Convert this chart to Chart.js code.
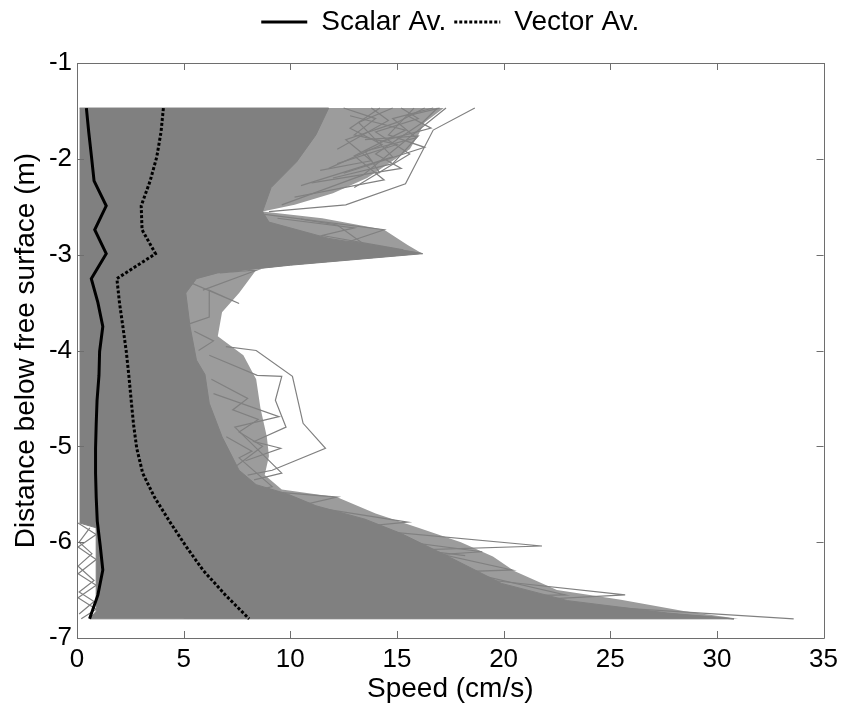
<!DOCTYPE html>
<html>
<head>
<meta charset="utf-8">
<script src="https://cdn.jsdelivr.net/npm/chart.js@4.4.0/dist/chart.umd.min.js"></script>
<style>
  body { margin: 0; background: #fff; }
  canvas { display: block; }
</style>
</head>
<body>
<canvas id="speedChart" width="844" height="706"></canvas>
<script>
// depth bins (m), shared by both averages
const depth = [-1.47, -1.72, -1.98, -2.23, -2.49, -2.74, -2.99, -3.25, -3.50, -3.75, -4.01, -4.26, -4.52, -4.77, -5.02, -5.28, -5.53, -5.78, -6.04, -6.29, -6.55, -6.80]
const scalarAvg = [0.44, 0.55, 0.68, 0.80, 1.37, 0.83, 1.37, 0.67, 0.98, 1.21, 1.06, 1.03, 0.94, 0.90, 0.87, 0.87, 0.90, 0.95, 1.09, 1.21, 0.98, 0.59]
const vectorAvg = [4.05, 3.94, 3.74, 3.43, 3.01, 3.05, 3.68, 1.87, 1.99, 2.15, 2.31, 2.43, 2.54, 2.65, 2.80, 3.08, 3.63, 4.33, 5.10, 5.90, 6.95, 8.07]

// outline of the solid grey mass made by all the single profiles
const massSpeed = [0.12, 11.8, 11.2, 10.3, 9.1, 8.7, 9.0, 11.8, 14.6, 16.2, 10.0, 6.6, 5.6, 5.1, 5.3, 5.6, 6.0, 6.2, 6.8, 7.6, 8.4, 9.9, 11.2, 13.5, 15.2, 17.5, 19.9, 23.0, 27.7, 30.8, 0.6, 0.9, 0.9, 0.12]
const massDepth = [-1.47, -1.47, -1.75, -2.03, -2.30, -2.55, -2.66, -2.83, -2.93, -2.99, -3.11, -3.19, -3.25, -3.40, -3.75, -4.10, -4.25, -4.55, -4.90, -5.25, -5.40, -5.50, -5.62, -5.76, -5.91, -6.16, -6.43, -6.61, -6.74, -6.80, -6.80, -6.72, -5.85, -5.80]

// outer edge of the band where the profiles are dense but not solid
const hairSpeed = [5.0, 17.2, 16.3, 16.0, 15.6, 14.6, 13.6, 12.0, 10.2, 8.7, 11.5, 14.4, 15.5, 16.2, 10.0, 6.7, 8.4, 7.6, 6.8, 6.6, 7.8, 8.4, 8.6, 8.9, 9.0, 8.8, 9.6, 12.2, 14.0, 16.0, 18.0, 19.5, 20.5, 22.5, 25.5, 28.5, 31.0, 5.0]
const hairDepth = [-1.47, -1.47, -1.62, -1.75, -1.90, -2.05, -2.20, -2.36, -2.48, -2.55, -2.62, -2.74, -2.90, -2.99, -3.11, -3.19, -3.16, -3.40, -3.60, -3.85, -4.05, -4.30, -4.60, -4.90, -5.10, -5.30, -5.45, -5.53, -5.70, -5.85, -6.00, -6.15, -6.30, -6.50, -6.60, -6.72, -6.80, -6.80]

// single profiles sticking out of the mass, [speed, depth]
const topProfiles = [
    [[18.65, -1.47], [16.7, -1.70], [15.4, -2.26], [12.6, -2.48], [9.0, -2.55]],
    [[17.3, -1.47], [15.9, -1.72], [13.4, -2.17], [9.6, -2.48]],
    [[16.9, -1.47], [16.2, -1.62], [14.0, -1.95], [15.2, -2.10], [11.0, -2.25]],
    [[15.8, -1.47], [14.6, -1.75], [16.3, -1.88], [12.5, -2.15]],
    [[14.8, -1.47], [13.2, -1.62], [14.8, -1.98], [10.5, -2.28]],
    [[16.3, -1.47], [15.0, -1.62], [12.6, -1.80], [13.8, -2.02], [11.4, -2.12]],
    [[13.8, -1.47], [14.6, -1.60], [12.2, -1.90]],
    [[17.0, -1.47], [15.5, -1.55], [16.6, -1.68], [14.2, -1.82]],
    [[12.8, -1.55], [15.4, -1.70], [13.0, -1.97], [14.4, -2.22], [10.2, -2.40]],
    [[12.5, -1.47], [14.0, -1.58], [13.0, -1.75], [15.0, -1.85], [12.2, -2.05]],
    [[15.2, -1.47], [16.0, -1.58], [14.0, -1.72], [15.6, -1.95], [13.0, -2.30]],
    [[14.2, -1.47], [12.8, -1.68], [14.3, -1.85], [11.8, -2.10]],
    [[16.7, -1.47], [14.8, -1.58], [15.9, -1.78], [13.5, -1.92], [14.2, -2.15]],
    [[13.5, -1.80], [16.0, -1.76], [14.8, -2.05], [12.0, -2.20]]
]
const midProfiles = [
    [[8.8, -2.58], [14.4, -2.74], [12.8, -2.86], [16.2, -2.99]],
    [[9.4, -2.62], [13.0, -2.72], [11.5, -2.80], [15.3, -2.95]],
    [[10.5, -2.63], [12.2, -2.69], [13.7, -2.93]],
    [[6.7, -3.19], [8.45, -3.16], [5.9, -3.37]],
    [[5.4, -3.30], [7.6, -3.51], [6.2, -3.37], [6.2, -3.65], [5.3, -3.72]],
    [[5.5, -3.80], [6.4, -3.90], [5.7, -4.00]],
    [[6.98, -3.96], [8.4, -4.00], [10.1, -4.27], [10.6, -4.76], [11.65, -5.02], [9.15, -5.25], [8.0, -5.30]],
    [[6.2, -4.05], [8.45, -4.26], [9.6, -4.27], [9.3, -4.52], [9.8, -4.80], [8.3, -4.95], [9.55, -5.02], [7.9, -5.15]],
    [[6.3, -4.30], [8.0, -4.50], [7.3, -4.62], [8.5, -4.72], [7.6, -4.85], [8.7, -5.00], [7.5, -5.20]],
    [[6.4, -4.45], [9.47, -4.69], [7.4, -4.80], [9.6, -5.28], [8.3, -5.35]],
    [[7.0, -4.90], [8.2, -5.05], [7.6, -5.12], [9.15, -5.42], [8.6, -5.45]]
]
const lowProfiles = [
    [[9.5, -5.48], [12.2, -5.53], [10.8, -5.60]],
    [[11.5, -5.65], [15.5, -5.79], [13.2, -5.84]],
    [[14.0, -5.88], [21.8, -6.04], [16.0, -6.08], [18.2, -6.14]],
    [[13.8, -5.95], [19.0, -6.10], [15.5, -6.15]],
    [[15.5, -6.05], [20.4, -6.29], [17.8, -6.31]],
    [[18.0, -6.30], [22.9, -6.55], [20.5, -6.56]],
    [[19.5, -6.40], [25.7, -6.55], [21.5, -6.60]],
    [[23.5, -6.66], [33.6, -6.80]],
    [[25.0, -6.70], [30.8, -6.80]]
]
const edgeProfiles = [
    [[0.05, -5.80], [0.9, -5.92], [0.05, -6.05], [0.9, -6.18], [0.05, -6.33], [0.9, -6.45], [0.05, -6.58], [0.9, -6.70], [0.2, -6.80]],
    [[0.6, -5.85], [0.1, -6.00], [0.7, -6.12], [0.05, -6.25], [0.8, -6.40], [0.1, -6.52], [0.8, -6.62], [0.1, -6.75]]
]

const grey = '#808080'
const tickFont = { family: '"Liberation Sans", Arial, sans-serif', size: 26 }
const textFont = { family: '"Liberation Sans", Arial, sans-serif', size: 28 }

Chart.defaults.font.family = tickFont.family
Chart.defaults.color = '#000'

var profileDataset = function (points) {
    return {
        data: points.map(p => ({ x: p[0], y: p[1] })),
        borderColor: grey,
        borderWidth: 1.2,
        fill: false,
        order: 2
    }
}

var datasets = [
    {
        label: 'Scalar Av.',
        data: depth.map((d, i) => ({ x: scalarAvg[i], y: d })),
        borderColor: '#000',
        borderWidth: 3,
        order: 0
    },
    {
        label: 'Vector Av.',
        data: depth.map((d, i) => ({ x: vectorAvg[i], y: d })),
        borderColor: '#000',
        borderWidth: 3,
        borderDash: [3, 2],
        order: 1
    }
]
topProfiles.concat(midProfiles, lowProfiles, edgeProfiles).forEach(p => datasets.push(profileDataset(p)))
datasets.push({
    data: massSpeed.map((s, i) => ({ x: s, y: massDepth[i] })),
    borderColor: grey,
    backgroundColor: grey,
    borderWidth: 1,
    fill: 'shape',
    order: 3
})
datasets.push({
    data: hairSpeed.map((s, i) => ({ x: s, y: hairDepth[i] })),
    borderColor: 'rgba(0,0,0,0)',
    backgroundColor: '#9c9c9c',
    borderWidth: 0,
    fill: 'shape',
    order: 4
})

// matlab style box with ticks pointing inwards
const boxTicks = {
    id: 'boxTicks',
    afterDatasetsDraw(chart) {
        const { ctx, chartArea: a } = chart
        const x = chart.scales.x, y = chart.scales.y
        ctx.save()
        ctx.strokeStyle = '#6e6e6e'
        ctx.lineWidth = 1
        ctx.beginPath()
        ctx.rect(Math.round(a.left) + 0.5, Math.round(a.top) + 0.5, Math.round(a.width), Math.round(a.height))
        x.ticks.forEach(t => {
            const px = Math.round(x.getPixelForValue(t.value)) + 0.5
            ctx.moveTo(px, a.bottom); ctx.lineTo(px, a.bottom - 7)
            ctx.moveTo(px, a.top); ctx.lineTo(px, a.top + 7)
        })
        y.ticks.forEach(t => {
            const py = Math.round(y.getPixelForValue(t.value)) + 0.5
            ctx.moveTo(a.left, py); ctx.lineTo(a.left + 7, py)
            ctx.moveTo(a.right, py); ctx.lineTo(a.right - 7, py)
        })
        ctx.stroke()
        ctx.restore()
    }
}

var chart = new Chart(document.getElementById('speedChart'), {
    type: 'line',
    data: { datasets: datasets },
    options: {
        responsive: false,
        animation: false,
        events: [],
        layout: { padding: { left: 0, right: 17, top: 0, bottom: 0 } },
        elements: { point: { radius: 0 }, line: { tension: 0 } },
        plugins: {
            tooltip: { enabled: false },
            legend: {
                position: 'top',
                fullSize: false,
                labels: {
                    font: textFont,
                    color: '#000',
                    padding: 8,
                    usePointStyle: true,
                    pointStyleWidth: 46,
                    generateLabels: function (c) {
                        const items = Chart.defaults.plugins.legend.labels.generateLabels(c)
                        items.forEach(it => {
                            const ds = c.data.datasets[it.datasetIndex]
                            it.pointStyle = 'line'
                            it.lineDash = ds.borderDash || []
                            it.lineWidth = ds.borderWidth
                            it.strokeStyle = ds.borderColor
                        })
                        return items.filter(it => it.text)
                    }
                }
            }
        },
        scales: {
            x: {
                type: 'linear',
                min: 0,
                max: 35,
                ticks: { stepSize: 5, padding: 6, font: tickFont, color: '#000' },
                grid: { display: false, drawTicks: false },
                border: { display: false },
                title: { display: true, text: 'Speed (cm/s)', font: textFont, color: '#000', padding: 0 },
                afterFit: s => { s.height = 68 }
            },
            x2: {
                type: 'linear',
                position: 'top',
                min: 0,
                max: 35,
                ticks: { display: false },
                grid: { display: false, drawTicks: false },
                border: { display: false },
                afterFit: s => { s.height = 17 }
            },
            y: {
                type: 'linear',
                min: -7,
                max: -1,
                ticks: { stepSize: 1, padding: 5, font: tickFont, color: '#000' },
                grid: { display: false, drawTicks: false },
                border: { display: false },
                title: { display: true, text: 'Distance below free surface (m)', font: textFont, color: '#000', padding: { top: 9, bottom: 0 } },
                afterFit: s => { s.width = 77 }
            }
        }
    },
    plugins: [boxTicks]
})
</script>
</body>
</html>
